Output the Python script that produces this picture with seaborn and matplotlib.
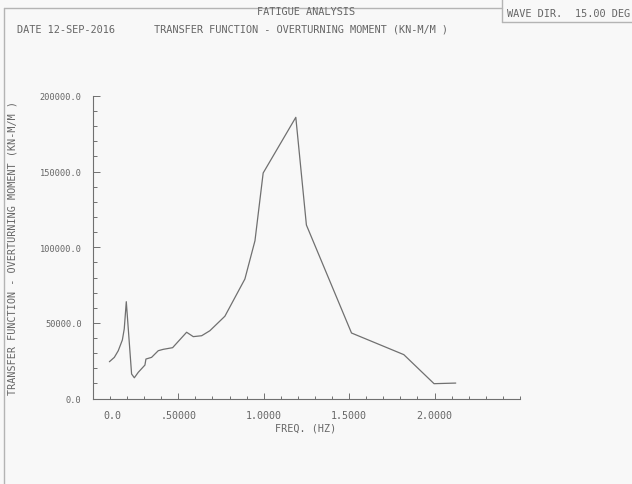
import numpy as np
import pandas as pd
import matplotlib
matplotlib.use("Agg")
import matplotlib.pyplot as plt
import seaborn as sns
from matplotlib.lines import Line2D
from matplotlib.transforms import ScaledTranslation
from matplotlib.ticker import MultipleLocator, FixedLocator

# ---- data ----
freq_hz = [0.097, 0.126, 0.149, 0.173, 0.184, 0.196, 0.227, 0.243, 0.266, 0.305,
           0.311, 0.344, 0.383, 0.412, 0.467, 0.549, 0.588, 0.637, 0.685, 0.773,
           0.890, 0.949, 0.997, 1.188, 1.250, 1.514, 1.820, 1.997, 2.124]
moment = [24300, 27200, 31600, 38700, 46000, 64000, 16200, 13700, 17300, 22100,
          26100, 27200, 31600, 32500, 33600, 43800, 40900, 41500, 44800, 54400,
          79000, 104300, 149100, 185900, 114700, 43300, 29000, 9800, 10200]

x_ticks = [0.0, 0.5, 1.0, 1.5, 2.0]
x_ticklabels = ["0.0", ".50000", "1.0000", "1.5000", "2.0000"]
y_ticks = [0, 50000, 100000, 150000, 200000]
y_ticklabels = ["0.0", "50000.0", "100000.0", "150000.0", "200000.0"]

title_top = "FATIGUE ANALYSIS"
date_text = "DATE 12-SEP-2016"
subtitle = "TRANSFER FUNCTION - OVERTURNING MOMENT (KN-M/M )"
wave_label = "WAVE DIR."
wave_value = "15.00 DEG"
x_label = "FREQ. (HZ)"
y_label = "TRANSFER FUNCTION - OVERTURNING MOMENT (KN-M/M )"

df = pd.DataFrame({"freq": freq_hz, "moment": moment})

# ---- style ----
sns.set_style("white")
plt.rcParams["font.family"] = ["DejaVu Sans Mono", "DejaVu Sans"]
BG = "#f8f8f8"
INK = "#707070"
TXT = "#666666"
FRAME = "#b4b4b4"

W, H = 632, 485
fig = plt.figure(figsize=(W / 100, H / 100), dpi=100, facecolor=BG)

def fx(px):
    return px / W

def fy(py):
    return 1 - py / H

ax_l, ax_r, ax_t, ax_b = 92.8, 520.0, 97.0, 399.5
ax = fig.add_axes([fx(ax_l), fy(ax_b), (ax_r - ax_l) / W, (ax_b - ax_t) / H])
ax.set_facecolor(BG)

sns.lineplot(data=df, x="freq", y="moment", ax=ax, color=INK, linewidth=0.9,
             estimator=None, sort=False)

ax.set_xlim(0, 2.5)
ax.set_ylim(0, 200000)
for s in ["top", "right"]:
    ax.spines[s].set_visible(False)
for s in ["left", "bottom"]:
    ax.spines[s].set_color(INK)
    ax.spines[s].set_linewidth(0.8)

ax.xaxis.set_major_locator(FixedLocator(x_ticks))
ax.set_xticklabels(x_ticklabels)
ax.xaxis.set_minor_locator(MultipleLocator(0.1))
ax.yaxis.set_major_locator(FixedLocator(y_ticks))
ax.set_yticklabels(y_ticklabels)
ax.yaxis.set_minor_locator(MultipleLocator(10000))

ax.tick_params(axis="x", which="both", bottom=True, top=False)
ax.tick_params(axis="y", which="both", left=True, right=False)
ax.tick_params(axis="x", which="major", direction="in", length=4.5, width=0.7,
               color=INK, labelsize=7.2, labelcolor=TXT, pad=8)
ax.tick_params(axis="x", which="minor", direction="in", length=2.2, width=0.7, color=INK)
ax.tick_params(axis="y", which="major", direction="in", length=5, width=0.7,
               color=INK, labelsize=6.2, labelcolor=TXT, pad=8)
ax.tick_params(axis="y", which="minor", direction="in", length=3, width=0.7, color=INK)
ax.set_xlabel("")
ax.set_ylabel("")

# shift the "0.0" x label to the right as in the reference
lab0 = ax.get_xticklabels()[0]
lab0.set_transform(lab0.get_transform() + ScaledTranslation(20 / 100, 0, fig.dpi_scale_trans))

# axis titles
fig.text(fx(306), fy(429), x_label, ha="center", va="center", fontsize=7.3, color=TXT)
fig.text(fx(13), fy(248), y_label, ha="center", va="center", rotation=90,
         fontsize=7.3, color=TXT)

# header
fig.text(fx(306), fy(12), title_top, ha="center", va="center", fontsize=7.4, color=TXT)
fig.text(fx(17), fy(30), date_text, ha="left", va="center", fontsize=7.4, color=TXT)
fig.text(fx(154), fy(30), subtitle, ha="left", va="center", fontsize=7.4, color=TXT)
fig.text(fx(507), fy(14), wave_label, ha="left", va="center", fontsize=7.4, color=TXT)
fig.text(fx(575), fy(14), wave_value, ha="left", va="center", fontsize=7.4, color=TXT)

# page frame lines
def seg(x0, y0, x1, y1, c=FRAME, lw=1.0):
    fig.add_artist(Line2D([fx(x0), fx(x1)], [fy(y0), fy(y1)], color=c, linewidth=lw,
                          transform=fig.transFigure))

seg(4, 9, 502, 9)
seg(4, 9, 4, 485)
seg(502, 0, 502, 23)
seg(502, 23, 632, 23)

fig.savefig("out.png", dpi=100, facecolor=BG)
